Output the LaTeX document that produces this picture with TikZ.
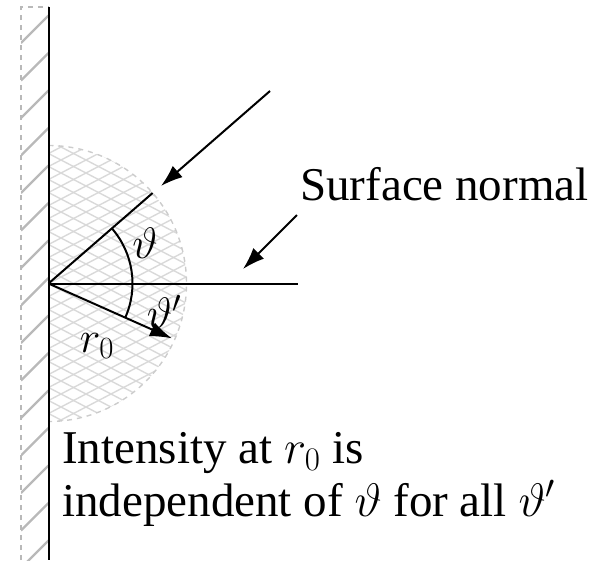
\RequirePackage{fix-cm}
\documentclass[tikz,border=0pt]{standalone}
\usepackage[no-math]{fontspec}
\setmainfont{Liberation Serif}
\usetikzlibrary{arrows.meta}
\tikzset{
  mainline/.style={line width=2pt, black},
  arrowline/.style={line width=2pt, black, -{Latex[length=22pt,width=15pt]}},
  hatchline/.style={line width=2.4pt, gray!55},
  crossline/.style={line width=1.4pt, gray!30},
  edgedash/.style={line width=1.4pt, gray!55, dash pattern=on 5pt off 5pt},
  bigtext/.style={font=\fontsize{47}{56}\selectfont, inner sep=0pt},
  mathlabel/.style={font=\fontsize{44}{50}\selectfont, inner sep=0pt}
}
\begin{document}
\begin{tikzpicture}[x=1pt,y=-1pt]
\useasboundingbox (0,0) rectangle (613,560);
% hatched wall region
\begin{scope}
  \clip (21,7) rectangle (48.5,560);
  \foreach \k in {-1,...,15} {
    \draw[hatchline] (21,{43+37.5*\k}) -- (48.5,{15.5+37.5*\k});
  }
\end{scope}
\draw[edgedash] (21,560) -- (21,7) -- (48.5,7);
% half disk crosshatch
\coordinate (O) at (48.5,283.5);
\begin{scope}
  \clip (48.5,145.5) arc[start angle=-90, end angle=90, radius=138] -- cycle;
  \foreach \c in {-26,...,26} {
    \draw[crossline] (48.5,{283.5+13*\c}) -- (190,{283.5+13*\c+0.52*141.5});
    \draw[crossline] (48.5,{283.5+13*\c}) -- (190,{283.5+13*\c-0.52*141.5});
  }
\end{scope}
\draw[edgedash, gray!40] (48.5,145.5) arc[start angle=-90, end angle=90, radius=138];
% wall
\coordinate (wtop) at (48.5,7);
\coordinate (wbot) at (48.5,560);
\draw[mainline] (wtop) -- (wbot);
% rays
\coordinate (P) at (152.6,193);
\coordinate (H) at (298,283.5);
\coordinate (R) at (172,338.4);
\coordinate (A1) at (270,91);
\coordinate (A2) at (161,186);
\coordinate (S1) at (297,215);
\coordinate (S2) at (243,269);
\draw[mainline] (O) -- (P);
\draw[mainline] (O) -- (H);
\draw[arrowline] (O) -- (R);
\draw[arrowline] (A1) -- (A2);
\draw[arrowline] (S1) -- (S2);
% angle arc
\draw[mainline] (O) ++(-41:84) arc[start angle=-41, end angle=24, radius=84];
% labels
\node[mathlabel] (th) at (145,243) {$\vartheta$};
\node[mathlabel] (thp) at (164,312) {$\vartheta'$};
\node[mathlabel] (r0) at (97,346) {$r_0$};
\node[bigtext, anchor=base west] (sn) at (300,200) {Surface normal};
\node[bigtext, anchor=base west] (t1) at (62,463) {Intensity at $r_0$ is};
\node[bigtext, anchor=base west] (t2) at (62,516) {independent of $\vartheta$ for all $\vartheta'$};
\end{tikzpicture}
\end{document}
